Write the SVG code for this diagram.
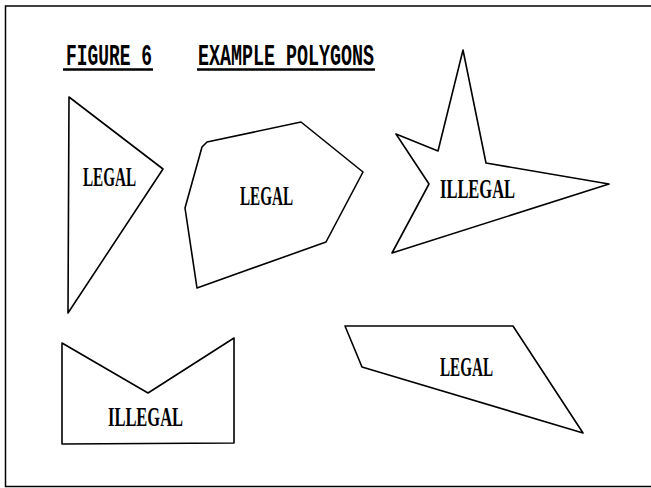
<svg xmlns="http://www.w3.org/2000/svg" width="651" height="488" viewBox="0 0 651 488">
<style>
.poly{fill:none;stroke:#000;stroke-width:1.6;stroke-linejoin:round}
.lbl{font-family:"Liberation Serif","DejaVu Serif",serif;font-weight:bold;font-size:28px;fill:#000}
.ttl{font-family:"Liberation Mono","DejaVu Sans Mono",monospace;font-weight:bold;font-size:29px;fill:#000}
.ul{stroke:#000;stroke-width:2.5}
.frame{stroke:#000;stroke-width:1.5;fill:none}
</style>
<rect width="651" height="488" fill="#fff"/>
<path class="frame" d="M651,6 H5.5 V486.5 H651"/>
<g id="title">
<text class="ttl" x="66" y="65" textLength="86" lengthAdjust="spacingAndGlyphs">FIGURE 6</text>
<line class="ul" x1="63" y1="69.5" x2="153" y2="69.5"/>
<text class="ttl" x="198" y="65" textLength="176" lengthAdjust="spacingAndGlyphs">EXAMPLE POLYGONS</text>
<line class="ul" x1="197" y1="69.5" x2="375" y2="69.5"/>
</g>
<g id="triangle">
<polygon class="poly" points="69,97 163,169 68,313"/>
<text class="lbl" x="83" y="186" textLength="53" lengthAdjust="spacingAndGlyphs">LEGAL</text>
</g>
<g id="hexagon">
<polygon class="poly" points="207,142 301,122 363,172 326,242 197,288 185,208 202,147"/>
<text class="lbl" x="240" y="205" textLength="53" lengthAdjust="spacingAndGlyphs">LEGAL</text>
</g>
<g id="star">
<polygon class="poly" points="463,50 486,163 609,184 392,253 429,184 396,134 438,151"/>
<text class="lbl" x="440" y="198" textLength="75" lengthAdjust="spacingAndGlyphs">ILLEGAL</text>
</g>
<g id="envelope">
<polygon class="poly" points="62,343 148,393 234,338 234,443 62,444"/>
<text class="lbl" x="108" y="426" textLength="75" lengthAdjust="spacingAndGlyphs">ILLEGAL</text>
</g>
<g id="quad">
<polygon class="poly" points="345,326 513,326 583,433 362,367"/>
<text class="lbl" x="440" y="376" textLength="53" lengthAdjust="spacingAndGlyphs">LEGAL</text>
</g>
</svg>
